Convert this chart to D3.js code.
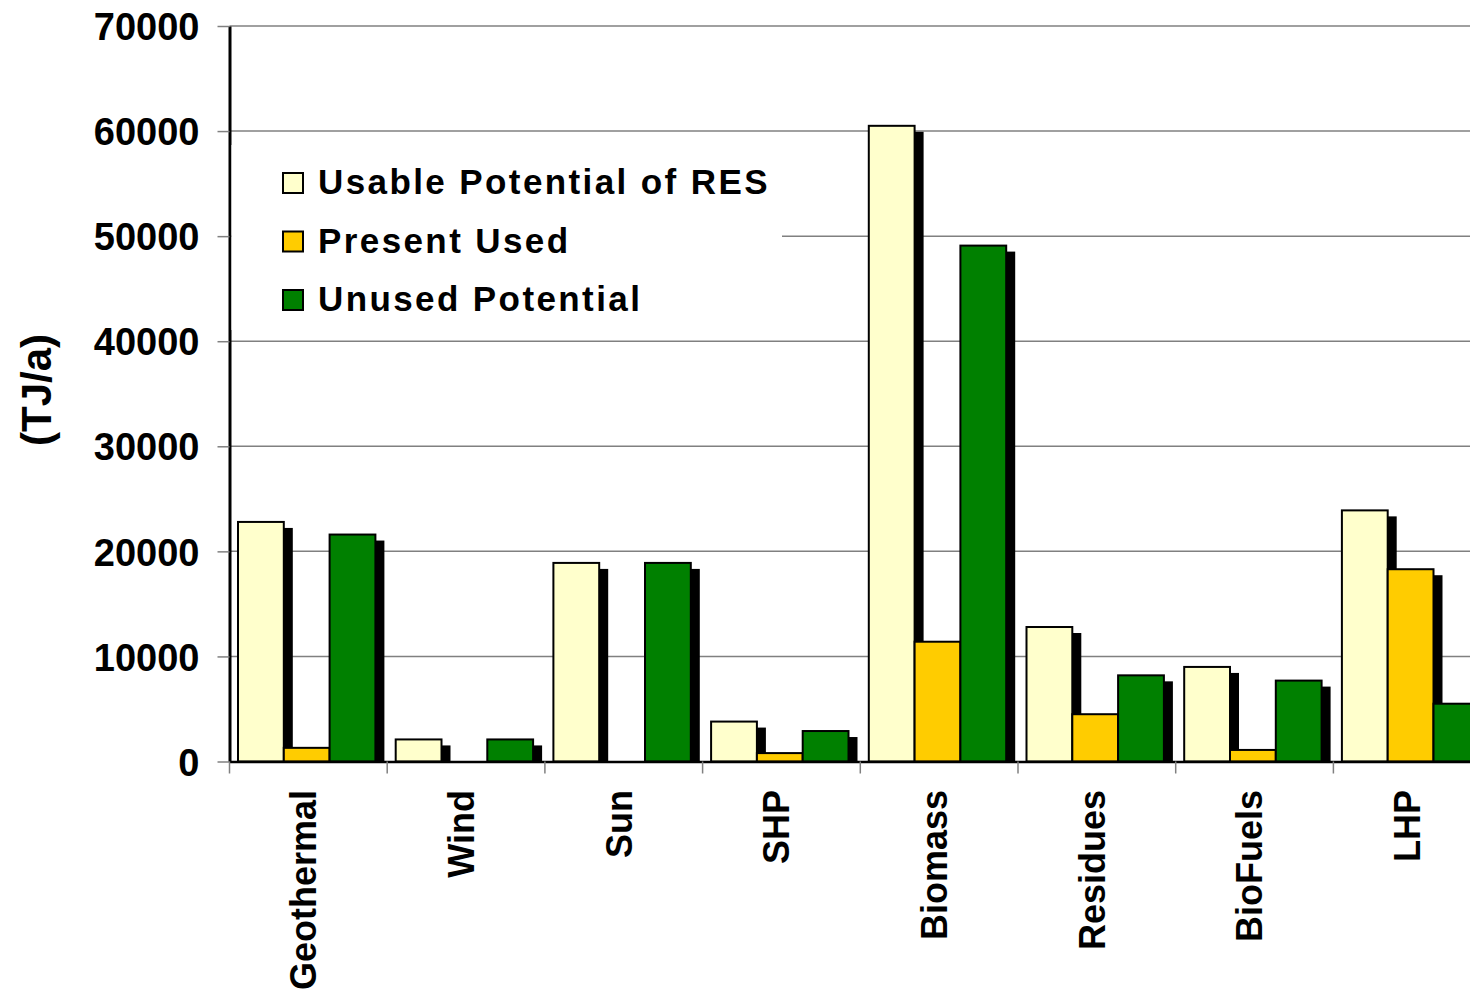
<!DOCTYPE html>
<html>
<head>
<meta charset="utf-8">
<script src="https://cdn.jsdelivr.net/npm/d3@7"></script>
<style>
  body { margin: 0; background: #fff; }
  svg { display: block; font-family: "Liberation Sans", Arial, sans-serif; font-weight: bold; }
</style>
</head>
<body>
<svg width="1470" height="998"></svg>
<script>
// data (TJ/a)
var categories = ["Geothermal", "Wind", "Sun", "SHP", "Biomass", "Residues", "BioFuels", "LHP"];
var seriesNames = ["Usable Potential of RES", "Present Used", "Unused Potential"];
var usable  = [22800, 2100, 18900, 3800, 60500, 12800, 9000, 23900];
var present = [1300, 0, 0, 800, 11400, 4500, 1100, 18300];
var unused  = [21600, 2100, 18900, 2900, 49100, 8200, 7700, 5500];
var colors = ["#FFFFCC", "#FFCC00", "#008000"];
var yTicks = [0, 10000, 20000, 30000, 40000, 50000, 60000, 70000];

var svg = d3.select("svg");
var width = +svg.attr("width");

var plotLeft = 229.5, plotBottom = 761.5, plotTop = 26;
var groupW = 157.7;

var y = d3.scaleLinear().domain([0, 70000]).range([plotBottom, plotTop]);
var x0 = d3.scaleBand().domain(categories).range([plotLeft, plotLeft + categories.length * groupW]);
var x1 = d3.scaleBand().domain(seriesNames).range([8.5, 8.5 + 3 * 45.8]);

var series = [usable, present, unused];

// gridlines
svg.append("g").selectAll("line")
    .data(yTicks.filter(function (d) { return d > 0; }))
    .enter().append("line")
    .attr("x1", plotLeft).attr("x2", width)
    .attr("y1", function (d) { return y(d); })
    .attr("y2", function (d) { return y(d); })
    .attr("stroke", "#808080")
    .attr("stroke-width", 1.5);

// bars with drop shadow, series drawn in order so the next bar hides the shadow
series.forEach(function (vals, si) {
    var rows = categories.map(function (c, i) { return { cat: c, v: vals[i] }; })
        .filter(function (d) { return d.v > 0; });
    var g = svg.append("g");
    g.selectAll(".shadow")
        .data(rows)
        .enter().append("rect")
        .attr("class", "shadow")
        .attr("x", function (d) { return x0(d.cat) + x1(seriesNames[si]) + 9; })
        .attr("y", function (d) { return Math.min(y(d.v) + 6, plotBottom); })
        .attr("width", x1.bandwidth())
        .attr("height", function (d) { return Math.max(0, plotBottom - y(d.v) - 6); })
        .attr("fill", "#000");
    g.selectAll(".bar")
        .data(rows)
        .enter().append("rect")
        .attr("class", "bar")
        .attr("x", function (d) { return x0(d.cat) + x1(seriesNames[si]); })
        .attr("y", function (d) { return y(d.v); })
        .attr("width", x1.bandwidth())
        .attr("height", function (d) { return plotBottom - y(d.v); })
        .attr("fill", colors[si])
        .attr("stroke", "#000")
        .attr("stroke-width", 2);
});

// y axis
var yaxis = svg.append("g")
    .attr("transform", "translate(" + plotLeft + ",0)")
    .call(d3.axisLeft(y).tickValues(yTicks).tickSize(12).tickPadding(18).tickSizeOuter(0).tickFormat(d3.format("d")));
yaxis.select(".domain").attr("stroke", "#000").attr("stroke-width", 3);
yaxis.selectAll(".tick line").attr("stroke", "#808080").attr("stroke-width", 1.5);
yaxis.selectAll(".tick text")
    .attr("font-size", "38px")
    .attr("font-family", "Liberation Sans, Arial, sans-serif")
    .attr("font-weight", "bold")
    .attr("fill", "#000")
    .attr("dy", "0.36em");

// x axis baseline
var xaxis = svg.append("g")
    .attr("transform", "translate(0," + plotBottom + ")")
    .call(d3.axisBottom(x0).tickSize(0).tickSizeOuter(0).tickFormat(""));
xaxis.select(".domain").attr("stroke", "#000").attr("stroke-width", 2.5);

// category boundary ticks
svg.append("g").selectAll("line")
    .data(categories)
    .enter().append("line")
    .attr("x1", function (d) { return x0(d); })
    .attr("x2", function (d) { return x0(d); })
    .attr("y1", plotBottom)
    .attr("y2", plotBottom + 12)
    .attr("stroke", "#808080")
    .attr("stroke-width", 1.5);

// category labels, rotated
svg.append("g").selectAll("text")
    .data(categories)
    .enter().append("text")
    .attr("transform", function (d) {
        return "translate(" + (x0(d) + x0.bandwidth() / 2) + "," + 790 + ") rotate(-90)";
    })
    .attr("dy", "0.22em")
    .attr("text-anchor", "end")
    .attr("font-size", "36px")
    .attr("fill", "#000")
    .text(function (d) { return d; });

// y axis title
svg.append("text")
    .attr("transform", "translate(51,390) rotate(-90)")
    .attr("text-anchor", "middle")
    .attr("font-size", "42px")
    .attr("fill", "#000")
    .text("(TJ/a)");

// legend
var legend = svg.append("g");
legend.append("rect")
    .attr("x", plotLeft + 2).attr("y", 145)
    .attr("width", 782 - plotLeft - 2).attr("height", 185)
    .attr("fill", "#fff");
var item = legend.selectAll(".item")
    .data(seriesNames)
    .enter().append("g")
    .attr("class", "item")
    .attr("transform", function (d, i) { return "translate(283," + (173 + i * 58.5) + ")"; });
item.append("rect")
    .attr("width", 20).attr("height", 20)
    .attr("fill", function (d, i) { return colors[i]; })
    .attr("stroke", "#000")
    .attr("stroke-width", 2);
item.append("text")
    .attr("x", 35)
    .attr("y", 21)
    .attr("font-size", "35px")
    .attr("letter-spacing", "2.4px")
    .attr("fill", "#000")
    .text(function (d) { return d; });
</script>
</body>
</html>
